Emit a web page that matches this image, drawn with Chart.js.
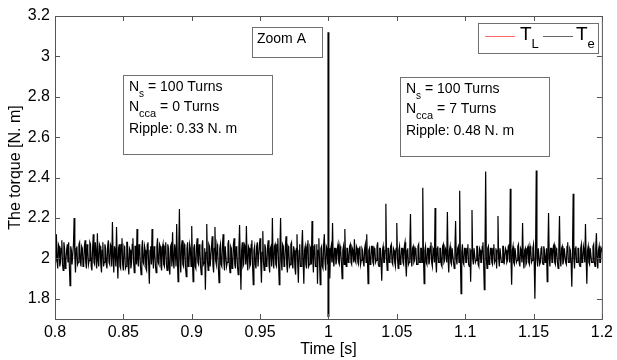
<!DOCTYPE html>
<html>
<head>
<meta charset="utf-8">
<script src="https://cdn.jsdelivr.net/npm/chart.js@4/dist/chart.umd.min.js"></script>
<style>
  html, body { margin: 0; padding: 0; background: #fff; }
  #wrap { width: 617px; height: 360px; }
</style>
</head>
<body>
<div id="wrap"><canvas id="torque-chart" width="617" height="360"></canvas></div>
<script>
// axis ticks
const xTicks = [0.8, 0.85, 0.9, 0.95, 1, 1.05, 1.1, 1.15, 1.2];
const yTicks = [1.8, 2, 2.2, 2.4, 2.6, 2.8, 3, 3.2];

// electromagnetic torque Te, sampled every 0.5 ms from 0.8 s
const sampleStart = 0.8;
const sampleStep = 0.0005;
const teValues = [
  2.03,1.98, 2.12,1.99, 1.95,2.07, 2.06,1.96, 1.98,2.05, 2.09,1.97, 1.94,2.08, 2.05,1.95, 1.99,2.04, 2.07,1.98, 2.08,1.96, 1.865,2.06, 2.04,1.97, 1.97,2.07, 2.20,2.01, 1.93,2.05, 2.06,1.97, 1.98,2.07, 2.08,1.99, 1.96,2.06,
  2.05,1.96, 1.97,2.06, 2.09,1.98, 1.95,2.07, 2.04,1.97, 1.99,2.08, 2.07,1.96, 1.94,2.05, 2.12,1.98, 1.97,2.08, 2.03,1.95, 2.125,1.99, 1.96,2.07, 2.06,1.97, 1.93,2.04, 2.08,1.96, 1.98,2.07, 2.05,1.97, 1.95,2.06, 2.09,1.98,
  1.97,2.07, 2.06,1.96, 2.18,2.01, 1.93,2.06, 2.04,1.96, 2.155,2.00, 1.90,2.05, 2.07,1.96, 1.95,2.07, 2.10,1.97, 1.94,2.06, 2.05,1.95, 1.96,2.08, 2.08,1.97, 1.92,2.05, 2.04,1.95, 1.98,2.07, 2.10,1.98, 1.93,2.06, 2.06,1.97,
  2.145,1.99, 1.96,2.07, 2.05,1.96, 1.92,2.05, 2.09,1.98, 1.97,2.06, 2.04,1.95, 1.94,2.07, 2.08,1.97, 1.875,2.04, 2.06,1.97, 2.145,2.00, 1.95,2.06, 2.03,1.96, 1.93,2.06, 2.10,1.98, 1.97,2.07, 2.06,1.96, 1.94,2.05, 2.07,1.97,
  1.96,2.06, 2.08,1.97, 1.94,2.07, 2.05,1.95, 1.92,2.06, 2.07,1.96, 2.13,1.99, 1.95,2.07, 2.04,1.96, 2.17,2.00, 1.885,2.04, 2.245,2.00, 1.93,2.06, 2.09,1.97, 1.96,2.07, 2.06,1.95, 1.91,2.05, 2.08,1.96, 1.97,2.07, 2.05,1.96,
  2.16,2.00, 1.885,2.05, 2.07,1.96, 1.95,2.06, 2.10,1.98, 1.97,2.07, 2.04,1.96, 1.92,2.06, 2.09,1.97, 1.98,2.05, 1.845,2.03, 2.17,1.99, 1.94,2.07, 2.06,1.96, 1.96,2.06, 2.11,1.97, 1.93,2.05, 2.155,1.99, 1.97,2.07, 2.05,1.95,
  1.88,2.05, 2.07,1.97, 1.96,2.07, 2.12,1.98, 1.94,2.06, 2.06,1.96, 1.98,2.07, 2.09,1.97, 1.93,2.06, 2.05,1.95, 1.96,2.07, 2.10,1.97, 1.95,2.06, 2.04,1.96, 1.92,2.05, 2.165,1.99, 1.845,2.04, 2.08,1.96, 1.97,2.07, 2.06,1.97,
  2.16,1.99, 1.94,2.06, 2.05,1.96, 1.97,2.07, 2.09,1.97, 1.87,2.04, 2.06,1.97, 1.95,2.06, 2.08,1.96, 1.96,2.07, 2.10,1.98, 1.88,2.03, 2.135,1.98, 1.94,2.07, 2.05,1.96, 1.97,2.06, 2.09,1.97, 1.93,2.05, 2.06,1.96, 2.20,2.00,
  1.95,2.06, 2.07,1.97, 1.96,2.07, 2.10,1.98, 1.87,2.04, 2.20,1.99, 1.94,2.07, 2.06,1.96, 1.98,2.06, 2.11,1.97, 1.93,2.06, 2.05,1.96, 1.97,2.07, 2.08,1.97, 1.95,2.06, 2.04,1.95, 1.92,2.05, 2.12,1.98, 1.88,2.04, 2.07,1.96,
  1.96,2.06, 2.14,1.99, 1.875,2.04, 2.06,1.97, 1.95,2.07, 2.09,1.96, 1.97,2.06, 2.05,1.97, 2.185,2.00, 1.93,2.06, 2.07,1.96, 1.96,2.07, 1.875,2.04, 2.10,1.98, 1.87,2.05, 2.06,1.96, 1.95,2.07, 2.12,1.98, 1.94,2.06, 2.05,1.97,
  2.02,2.05, 1.90,2.04, 2.06,1.98, 2.175,1.99, 1.96,2.05, 2.05,1.97, 1.99,2.05, 2.07,1.98, 1.97,2.06, 2.04,1.98, 1.90,2.04, 2.06,1.97, 2.145,2.00, 1.96,2.05, 2.05,1.98, 1.99,2.06, 2.07,1.98, 1.97,2.05, 2.04,1.98, 2.095,1.99,
  1.98,2.06, 2.05,1.98, 1.97,2.05, 2.06,1.97, 1.99,2.05, 2.04,1.98, 1.96,2.05, 2.07,1.98, 2.12,2.00, 1.875,2.04, 2.05,1.97, 1.98,2.06, 2.06,1.98, 1.97,2.05, 2.04,1.98, 1.99,2.06, 2.08,1.97, 1.96,2.05, 2.05,1.98, 1.89,2.04,
  2.06,1.98, 1.98,2.04, 2.27,2.00, 1.94,2.05, 2.05,1.98, 1.99,2.06, 2.07,1.98, 1.97,2.05, 2.04,1.98, 1.96,2.05, 2.175,2.00, 1.95,2.04, 2.06,1.97, 1.99,2.05, 2.05,1.98, 1.97,2.06, 2.08,1.98, 1.91,2.04, 2.05,1.97, 1.98,2.05,
  2.22,2.00, 1.96,2.05, 2.06,1.98, 1.99,2.05, 2.04,1.97, 1.97,2.06, 2.07,1.98, 1.98,2.05, 2.05,1.98, 2.35,2.01, 1.875,2.04, 2.06,1.98, 1.97,2.05, 2.05,1.97, 1.99,2.06, 2.08,1.98, 1.96,2.05, 2.04,1.98, 2.25,1.99, 1.93,2.05,
  2.06,1.98, 1.98,2.05, 2.05,1.97, 1.96,2.06, 2.07,1.98, 1.99,2.05, 2.04,1.98, 2.23,2.00, 1.93,2.04, 2.06,1.98, 1.97,2.05, 2.05,1.98, 1.95,2.05, 2.185,2.00, 1.97,2.05, 2.06,1.98, 2.335,2.00, 1.825,2.03, 2.07,1.98, 1.97,2.05,
  2.05,1.98, 1.98,2.05, 2.07,1.97, 1.96,2.05, 1.885,2.04, 2.24,2.00, 1.97,2.05, 2.05,1.98, 1.99,2.06, 2.06,1.97, 1.96,2.05, 2.04,1.98, 1.98,2.06, 2.08,1.98, 1.845,2.04, 2.43,2.00, 1.95,2.05, 2.06,1.97, 1.98,2.05, 2.05,1.98,
  1.97,2.05, 2.07,1.98, 1.99,2.05, 1.95,2.04, 2.21,2.00, 1.96,2.05, 2.05,1.98, 1.98,2.06, 2.06,1.97, 1.97,2.05, 2.04,1.98, 1.99,2.06, 2.07,1.98, 2.345,2.00, 1.87,2.04, 2.06,1.98, 1.97,2.05, 2.05,1.98, 1.99,2.06, 2.07,1.98,
  1.96,2.05, 2.04,1.98, 2.175,2.00, 1.95,2.04, 2.05,1.97, 1.98,2.05, 2.06,1.98, 1.97,2.06, 2.04,1.98, 1.99,2.05, 2.07,1.98, 1.80,2.03, 2.435,2.00, 1.96,2.05, 2.05,1.97, 1.98,2.05, 2.06,1.98, 1.97,2.06, 2.04,1.98, 1.99,2.05,
  1.885,2.03, 2.225,2.00, 1.96,2.05, 2.05,1.98, 1.98,2.06, 2.07,1.98, 1.97,2.05, 2.04,1.98, 1.95,2.04, 2.21,2.00, 1.96,2.05, 2.06,1.97, 1.99,2.05, 2.05,1.98, 1.97,2.06, 2.08,1.98, 1.98,2.05, 2.04,1.98, 1.86,2.03, 2.32,2.00,
  1.95,2.05, 2.06,1.98, 1.98,2.05, 2.05,1.97, 1.96,2.05, 2.07,1.98, 1.99,2.06, 2.04,1.98, 2.17,2.00, 1.875,2.04, 2.06,1.98, 1.97,2.05, 2.05,1.98, 1.98,2.06, 2.07,1.98, 1.96,2.05, 2.125,2.00, 1.95,2.04, 2.06,1.98, 1.98,2.05,
  2.04
];

// the transient at t = 1 s ("Zoom A")
const zoomTimes = [1.0, 1.0];
const zoomValues = [3.12, 1.71];

// load torque TL
const tlTimes = [0.8, 1.2];
const tlValues = [2, 2];

const FONT = "'Liberation Sans', Arial, sans-serif";

function toPoints(times, values) {
    return values.map((v, i) => ({ x: times[i], y: v }));
}

const teTimes = teValues.map((v, i) => +(sampleStart + i * sampleStep).toFixed(5));

// draws "main" + subscript + rest
function drawSub(ctx, x, y, main, sub, rest, size, subSize, drop) {
    ctx.font = size + 'px ' + FONT;
    ctx.fillText(main, x, y);
    x += ctx.measureText(main).width;
    if (sub) {
        ctx.font = subSize + 'px ' + FONT;
        ctx.fillText(sub, x, y + drop);
        x += ctx.measureText(sub).width;
    }
    if (rest) {
        ctx.font = size + 'px ' + FONT;
        ctx.fillText(rest, x, y);
    }
}

function box(ctx, x, y, w, h) {
    ctx.fillStyle = '#fff';
    ctx.fillRect(x, y, w, h);
    ctx.strokeStyle = '#707070';
    ctx.lineWidth = 1;
    ctx.strokeRect(x + 0.5, y + 0.5, w, h);
}

const decorPlugin = {
    id: 'decor',
    afterDraw(chart) {
        const ctx = chart.ctx;
        const a = chart.chartArea;
        const xs = chart.scales.x, ys = chart.scales.y;
        ctx.save();

        // frame and inward ticks on all four sides
        ctx.strokeStyle = '#555';
        ctx.lineWidth = 1;
        ctx.strokeRect(a.left + 0.5, a.top + 0.5, a.right - a.left, a.bottom - a.top);
        ctx.beginPath();
        xTicks.forEach(v => {
            const px = Math.round(xs.getPixelForValue(v)) + 0.5;
            ctx.moveTo(px, a.bottom); ctx.lineTo(px, a.bottom - 5);
            ctx.moveTo(px, a.top); ctx.lineTo(px, a.top + 5);
        });
        yTicks.forEach(v => {
            const py = Math.round(ys.getPixelForValue(v)) + 0.5;
            ctx.moveTo(a.left, py); ctx.lineTo(a.left + 5, py);
            ctx.moveTo(a.right, py); ctx.lineTo(a.right - 5, py);
        });
        ctx.stroke();

        ctx.textBaseline = 'alphabetic';
        ctx.textAlign = 'left';

        // Zoom A label
        box(ctx, 252, 27, 70, 30);
        ctx.fillStyle = '#000';
        ctx.font = '14px ' + FONT;
        ctx.fillText('Zoom A', 257, 43);

        // left annotation
        box(ctx, 123, 75, 149, 79);
        ctx.fillStyle = '#000';
        drawSub(ctx, 129, 91, 'N', 's', ' = 100 Turns', 14, 10, 6);
        drawSub(ctx, 129, 111, 'N', 'cca', ' = 0 Turns', 14, 11, 6);
        drawSub(ctx, 129, 133, 'Ripple: 0.33 N. m', '', '', 14, 10, 0);

        // right annotation
        box(ctx, 400, 77, 149, 79);
        ctx.fillStyle = '#000';
        drawSub(ctx, 406, 93, 'N', 's', ' = 100 Turns', 14, 10, 6);
        drawSub(ctx, 406, 113, 'N', 'cca', ' = 7 Turns', 14, 11, 6);
        drawSub(ctx, 406, 135, 'Ripple: 0.48 N. m', '', '', 14, 10, 0);

        // legend
        box(ctx, 478, 23, 120, 30);
        ctx.lineWidth = 1;
        ctx.strokeStyle = '#ff6a6a';
        ctx.beginPath(); ctx.moveTo(485, 36.5); ctx.lineTo(515, 36.5); ctx.stroke();
        ctx.strokeStyle = '#666';
        ctx.beginPath(); ctx.moveTo(543, 36.5); ctx.lineTo(573, 36.5); ctx.stroke();
        ctx.fillStyle = '#000';
        drawSub(ctx, 520, 40, 'T', 'L', '', 19, 13, 8);
        drawSub(ctx, 576, 40, 'T', 'e', '', 19, 13, 8);

        ctx.restore();
    }
};

const ctx = document.getElementById('torque-chart').getContext('2d');
new Chart(ctx, {
    type: 'line',
    data: {
        datasets: [
            {
                label: 'Te',
                data: toPoints(teTimes, teValues),
                borderColor: '#000',
                borderWidth: 1.2,
                pointRadius: 0,
                tension: 0
            },
            {
                label: 'Zoom A',
                data: toPoints(zoomTimes, zoomValues),
                borderColor: '#000',
                borderWidth: 2,
                pointRadius: 0
            },
            {
                label: 'TL',
                data: toPoints(tlTimes, tlValues),
                borderColor: 'rgba(220, 70, 70, 0.6)',
                borderWidth: 1,
                pointRadius: 0
            }
        ]
    },
    options: {
        responsive: false,
        animation: false,
        layout: { padding: { top: 16, right: 14, left: 0, bottom: 0 } },
        plugins: {
            legend: { display: false },
            tooltip: { enabled: false }
        },
        scales: {
            x: {
                type: 'linear',
                min: 0.8,
                max: 1.2,
                afterBuildTicks: s => { s.ticks = xTicks.map(v => ({ value: v })); },
                afterFit: s => { s.height = 41; },
                grid: { display: false, drawTicks: false },
                border: { display: false },
                ticks: {
                    color: '#000',
                    padding: 4,
                    maxRotation: 0,
                    autoSkip: false,
                    font: { family: FONT, size: 16 },
                    callback: v => String(v)
                },
                title: {
                    display: true,
                    text: 'Time [s]',
                    color: '#000',
                    font: { family: FONT, size: 16 },
                    padding: { top: 0, bottom: 1 }
                }
            },
            y: {
                type: 'linear',
                min: 1.7,
                max: 3.2,
                afterBuildTicks: s => { s.ticks = yTicks.map(v => ({ value: v })); },
                afterFit: s => { s.width = 55; },
                grid: { display: false, drawTicks: false },
                border: { display: false },
                ticks: {
                    color: '#000',
                    padding: 5,
                    autoSkip: false,
                    font: { family: FONT, size: 16 },
                    callback: v => String(v)
                },
                title: {
                    display: true,
                    text: 'The torque [N. m]',
                    color: '#000',
                    font: { family: FONT, size: 16 },
                    padding: { top: 6, bottom: 0 }
                }
            }
        }
    },
    plugins: [decorPlugin]
});
</script>
</body>
</html>
